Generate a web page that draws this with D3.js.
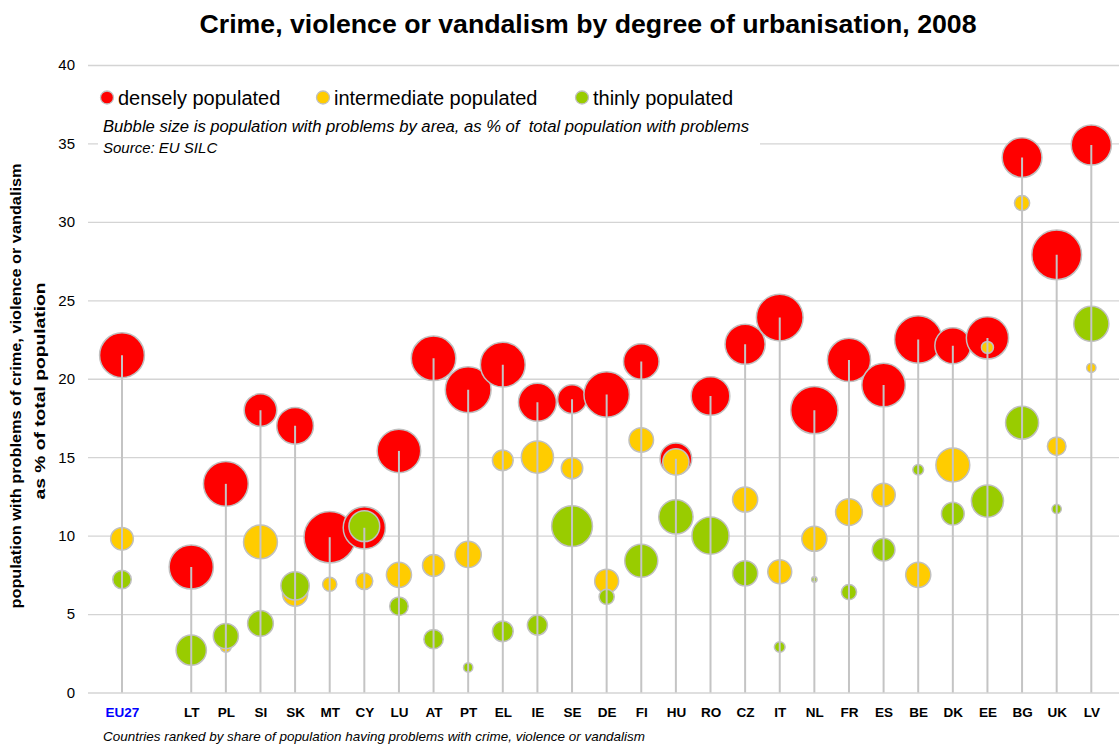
<!DOCTYPE html>
<html>
<head>
<meta charset="utf-8">
<script src="https://cdn.jsdelivr.net/npm/d3@7"></script>
<style>
  body { margin: 0; background: #fff; }
  svg { font-family: "Liberation Sans", Arial, sans-serif; }
</style>
</head>
<body>
<div id="chart"></div>
<script>
// categories, "" is the empty slot between EU27 and the countries
const categories = ["EU27", "", "LT", "PL", "SI", "SK", "MT", "CY", "LU", "AT", "PT", "EL", "IE", "SE", "DE",
  "FI", "HU", "RO", "CZ", "IT", "NL", "FR", "ES", "BE", "DK", "EE", "BG", "UK", "LV"];

// % of total population with problems (y position)
const densely = [21.5, null, 8.0, 13.3, 18.0, 17.0, 9.9, 10.5, 15.4, 21.3, 19.3, 20.9, 18.5, 18.7, 19.0,
  21.1, 14.9, 18.9, 22.2, 23.9, 18.0, 21.2, 19.6, 22.5, 22.1, 22.6, 34.1, 27.9, 34.9];
const intermediate = [9.8, null, null, 2.9, 9.6, 6.3, 6.9, 7.1, 7.5, 8.1, 8.8, 14.8, 15.0, 14.3, 7.1,
  16.1, 14.7, null, 12.3, 7.7, 9.8, 11.5, 12.6, 7.5, 14.5, 22.0, 31.2, 15.7, 20.7];
const thinly = [7.2, null, 2.7, 3.6, 4.4, 6.8, null, 10.6, 5.5, 3.4, 1.6, 3.9, 4.3, 10.6, 6.1,
  8.4, 11.2, 10.0, 7.6, 2.9, 7.2, 6.4, 9.1, 14.2, 11.4, 12.2, 17.2, 11.7, 23.5];

// bubble size: population with problems by area, % of total population with problems
const denselySize = [70, null, 68, 70, 37, 47, 92, 62, 66, 69, 73, 70, 50, 29, 72,
  44, 35, 52, 56, 76, 78, 65, 66, 78, 45, 62, 55, 86, 56];
const intermediateSize = [18, null, null, 4, 40, 22, 7, 10, 22, 17, 24, 15, 36, 16, 20,
  21, 24, null, 22, 20, 22, 25, 19, 22, 40, 5, 8, 12, 3];
const thinlySize = [12, null, 32, 22, 23, 28, null, 33, 12, 13, 3, 15, 14, 58, 8,
  38, 41, 48, 22, 4, 1, 8, 18, 4, 18, 36, 38, 3, 43];

const yTicks = [0, 5, 10, 15, 20, 25, 30, 35, 40];

const series = [
  {name: "densely populated", color: "#ff0000", values: densely, sizes: denselySize},
  {name: "intermediate populated", color: "#ffcc00", values: intermediate, sizes: intermediateSize},
  {name: "thinly populated", color: "#99cc00", values: thinly, sizes: thinlySize}
];

const width = 1119, height = 747;
const left = 88, right = 1119;

const svg = d3.select("#chart")
  .append("svg")
  .attr("width", width)
  .attr("height", height);

const y = d3.scaleLinear().domain([0, 40]).range([692.5, 65]);
const x = d3.scalePoint().domain(categories).range([122, 1091.3]);
const r = d3.scaleSqrt().domain([0, 100]).range([0, 26.8]);

// title
svg.append("text")
  .attr("x", 588).attr("y", 33)
  .attr("text-anchor", "middle")
  .attr("font-size", 26.5).attr("font-weight", "bold")
  .attr("textLength", 777).attr("lengthAdjust", "spacingAndGlyphs")
  .text("Crime, violence or vandalism by degree of urbanisation, 2008");

// y grid + labels
const yAxis = svg.append("g")
  .attr("transform", `translate(${left},0)`)
  .call(d3.axisLeft(y).tickValues(yTicks).tickSize(-(right - left)).tickPadding(13));
yAxis.select(".domain").remove();
yAxis.selectAll(".tick line").attr("stroke", "#d4d4d4").attr("stroke-width", 1.3);
yAxis.selectAll(".tick text").attr("font-size", 15).attr("fill", "#000")
  .attr("font-family", "Liberation Sans, Arial, sans-serif");

// legend box covers the grid
svg.append("rect")
  .attr("x", 98).attr("y", 78).attr("width", 662).attr("height", 82)
  .attr("fill", "#fff");

const legendX = [107, 323, 582];
const legend = svg.append("g");
series.forEach((s, i) => {
  legend.append("circle")
    .attr("cx", legendX[i]).attr("cy", 97.5).attr("r", 6.5)
    .attr("fill", s.color).attr("stroke", "#c0c0c0").attr("stroke-width", 1.3);
  legend.append("text")
    .attr("x", legendX[i] + 11).attr("y", 105)
    .attr("font-size", 20)
    .text(s.name);
});
svg.append("text")
  .attr("x", 103).attr("y", 132)
  .attr("font-size", 16).attr("font-style", "italic")
  .attr("textLength", 646).attr("lengthAdjust", "spacingAndGlyphs")
  .attr("xml:space", "preserve")
  .text("Bubble size is population with problems by area, as % of  total population with problems");
svg.append("text")
  .attr("x", 103).attr("y", 153)
  .attr("font-size", 15).attr("font-style", "italic")
  .text("Source: EU SILC");

// bubbles
series.forEach(s => {
  const pts = categories.map((c, i) => ({c, v: s.values[i], size: s.sizes[i]}))
    .filter(d => d.v != null);
  svg.append("g")
    .selectAll("circle")
    .data(pts)
    .join("circle")
    .attr("cx", d => x(d.c))
    .attr("cy", d => y(d.v))
    .attr("r", d => r(d.size))
    .attr("fill", s.color)
    .attr("stroke", "#c0c0c0")
    .attr("stroke-width", 1.5);
});

// stems from 0 up to the densely populated value
const stems = categories.map((c, i) => ({c, v: densely[i]})).filter(d => d.v != null);
svg.append("g")
  .selectAll("line")
  .data(stems)
  .join("line")
  .attr("x1", d => x(d.c)).attr("x2", d => x(d.c))
  .attr("y1", y(0)).attr("y2", d => y(d.v))
  .attr("stroke", "#c4c4c4")
  .attr("stroke-width", 2);

// x labels
const xAxis = svg.append("g")
  .attr("transform", `translate(0,${y(0)})`)
  .call(d3.axisBottom(x).tickValues(categories.filter(c => c !== "")).tickSize(0).tickPadding(15));
xAxis.select(".domain").remove();
xAxis.selectAll(".tick text")
  .attr("font-size", 13.5).attr("font-weight", "bold")
  .attr("font-family", "Liberation Sans, Arial, sans-serif")
  .attr("fill", d => d === "EU27" ? "#0000ff" : "#000");

// y title
const yTitle = svg.append("g").attr("font-weight", "bold").attr("font-size", 14);
yTitle.append("text")
  .attr("transform", "translate(21,386) rotate(-90)")
  .attr("text-anchor", "middle")
  .attr("textLength", 445).attr("lengthAdjust", "spacingAndGlyphs")
  .text("population with problems of crime, violence or vandalism");
yTitle.append("text")
  .attr("transform", "translate(45,391) rotate(-90)")
  .attr("text-anchor", "middle")
  .attr("textLength", 217).attr("lengthAdjust", "spacingAndGlyphs")
  .text("as % of total population");

// footnote
svg.append("text")
  .attr("x", 103).attr("y", 741)
  .attr("font-size", 13).attr("font-style", "italic")
  .attr("textLength", 542).attr("lengthAdjust", "spacingAndGlyphs")
  .text("Countries ranked by share of population having problems with crime, violence or vandalism");
</script>
</body>
</html>
